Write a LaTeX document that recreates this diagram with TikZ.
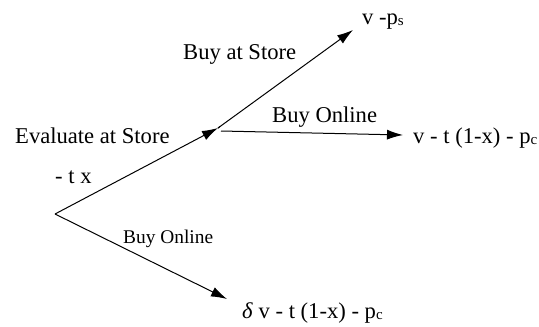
\documentclass[tikz,border=0pt]{standalone}
\usepackage{fontspec}
\setmainfont{Liberation Serif}
\usetikzlibrary{arrows.meta}
\newcommand{\smallsub}[1]{\raisebox{-1pt}{\fontsize{15}{15}\selectfont #1}}
\tikzset{
  lbl/.style={inner sep=0pt, anchor=base west, font=\fontsize{22.6}{27}\selectfont},
  lblsmall/.style={inner sep=0pt, anchor=base west, font=\fontsize{19.4}{23}\selectfont},
  arr/.style={line width=1pt, -{Latex[length=16pt,width=10pt]}},
}
\begin{document}
\begin{tikzpicture}[x=1pt,y=-1pt]
\useasboundingbox (0,0) rectangle (539,327);
\coordinate (root) at (55,214);
\coordinate (mid) at (218,128);
\coordinate (midr) at (221,131);
\coordinate (tipS) at (353,30);
\coordinate (tipO) at (403,135);
\coordinate (tipD) at (227,299);
\draw[arr] (root) -- (mid);
\draw[line width=1pt] (mid) -- ++(2,-1.5);
\draw[arr] (mid) -- (tipS);
\draw[arr] (midr) -- (tipO);
\draw[arr] (root) -- (tipD);
\node[lbl] (eval) at (15,143) {Evaluate at Store};
\node[lbl] (tx) at (55,183) {- t x};
\node[lbl] (bas) at (183,59) {Buy at Store};
\node[lbl] (vps) at (362,24) {v -p\smallsub{s}};
\node[lbl] (bo1) at (272,122) {Buy Online};
\node[lbl] (vpc) at (413,143) {v - t (1-x) - p\smallsub{c}};
\node[lblsmall] (bo2) at (123,243) {Buy Online};
\node[lbl] (dvpc) at (242,318) {\textit{δ} v - t (1-x) - p\smallsub{c}};
\end{tikzpicture}
\end{document}
